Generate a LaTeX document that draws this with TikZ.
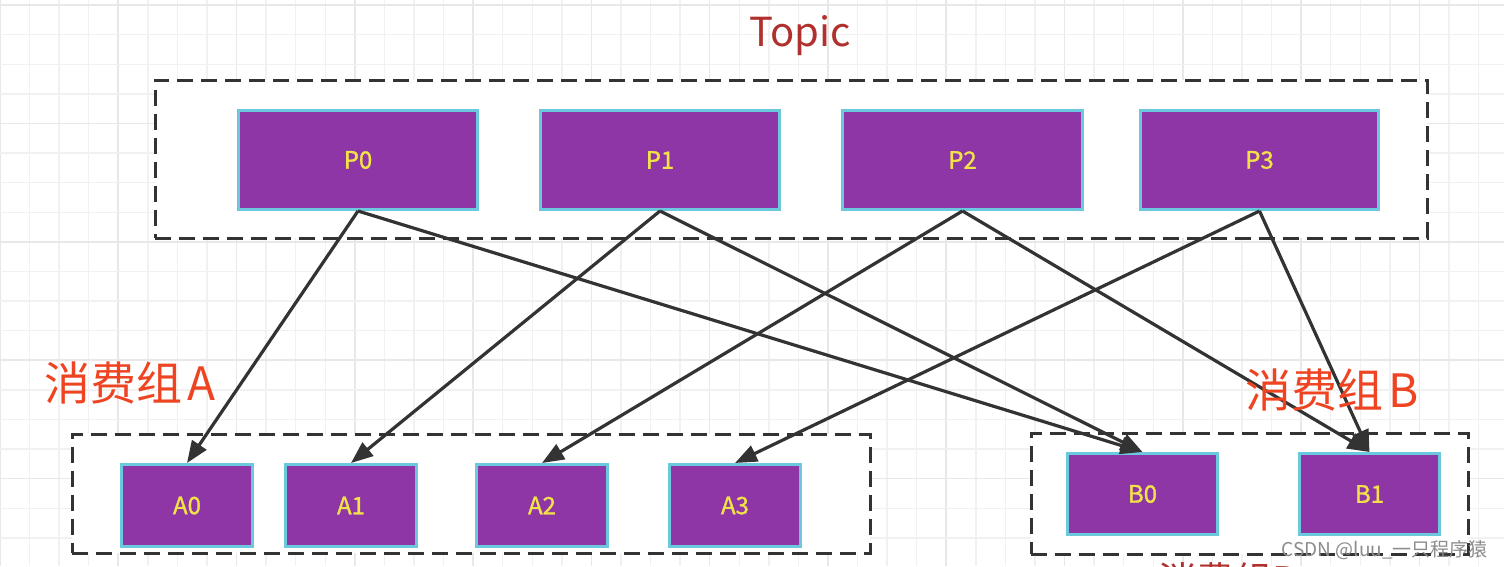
\documentclass[tikz,border=0pt]{standalone}
\usepackage{fontspec}
\setmainfont{Noto Sans CJK SC}
\newfontfamily\boxfont{Noto Sans CJK SC}[FakeBold=1.2]
\usetikzlibrary{arrows.meta}
\definecolor{gridminor}{HTML}{F1F1F1}
\definecolor{gridmajor}{HTML}{E8E8E8}
\definecolor{boxline}{HTML}{333333}
\definecolor{pfill}{HTML}{8E36A6}
\definecolor{pedge}{HTML}{6CC8DC}
\definecolor{ptext}{HTML}{F2E24A}
\definecolor{topicred}{HTML}{B0302E}
\definecolor{grpred}{HTML}{EE4422}
\definecolor{wmgray}{HTML}{8C8C8C}
\tikzset{
  groupbox/.style={draw=boxline, fill=white, line width=3pt, dash pattern=on 16pt off 8pt, rectangle, inner sep=0pt},
  partbox/.style={draw=pedge, fill=pfill, line width=3pt, rectangle, inner sep=0pt, text=ptext, font=\boxfont\fontsize{24}{28}\selectfont},
  link/.style={draw=boxline, line width=3.2pt, -{Triangle[length=22pt,width=17pt]}},
  grplabel/.style={text=grpred, font=\fontsize{46}{50}\selectfont, inner sep=0pt, anchor=base}
}
\begin{document}
\begin{tikzpicture}[x=1pt,y=-1pt]
\useasboundingbox (0,0) rectangle (1504,566);
\clip (0,0) rectangle (1504,566);
\fill[white] (0,0) rectangle (1504,566);
% grid
\foreach \k in {0,...,51}{
  \pgfmathtruncatemacro{\m}{mod(\k,4)}
  \ifnum\m=0
    \draw[gridmajor, line width=1.6pt] ({29.57*\k},0) -- ({29.57*\k},566);
  \else
    \draw[gridminor, line width=1.4pt] ({29.57*\k},0) -- ({29.57*\k},566);
  \fi
}
\foreach \k in {0,...,19}{
  \pgfmathtruncatemacro{\m}{mod(\k,4)}
  \ifnum\m=0
    \draw[gridmajor, line width=1.6pt] (0,{5+29.6*\k}) -- (1504,{5+29.6*\k});
  \else
    \draw[gridminor, line width=1.4pt] (0,{5+29.6*\k}) -- (1504,{5+29.6*\k});
  \fi
}
% group boxes
\node[groupbox, minimum width=1272pt, minimum height=158pt] (topicbox) at (791,159) {};
\node[groupbox, minimum width=798pt, minimum height=119pt] (grpA) at (471,493.5) {};
\node[groupbox, minimum width=437pt, minimum height=121pt] (grpB) at (1249.5,493.5) {};
% partitions
\node[partbox, minimum width=239pt, minimum height=99pt] (P0) at (358,160) {P0};
\node[partbox, minimum width=239pt, minimum height=99pt] (P1) at (660,160) {P1};
\node[partbox, minimum width=240pt, minimum height=99pt] (P2) at (962.5,160) {P2};
\node[partbox, minimum width=238pt, minimum height=99pt] (P3) at (1259.5,160) {P3};
% consumers A
\node[partbox, minimum width=131pt, minimum height=82pt] (A0) at (187,505.5) {A0};
\node[partbox, minimum width=131pt, minimum height=82pt] (A1) at (351,505.5) {A1};
\node[partbox, minimum width=131pt, minimum height=82pt] (A2) at (542,505.5) {A2};
\node[partbox, minimum width=131pt, minimum height=82pt] (A3) at (735,505.5) {A3};
% consumers B
\node[partbox, minimum width=150pt, minimum height=81pt] (B0) at (1142.5,494) {B0};
\node[partbox, minimum width=140pt, minimum height=81pt] (B1) at (1369.5,494) {B1};
% links
\draw[link] (P0.south) -- (A0.north);
\draw[link] (P0.south) -- (B0.north);
\draw[link] (P1.south) -- (A1.north);
\draw[link] (P1.south) -- (B0.north);
\draw[link] (P2.south) -- (A2.north);
\draw[link] (P2.south) -- (B1.north);
\draw[link] (P3.south) -- (A3.north);
\draw[link] (P3.south) -- (B1.north);
% labels
\node[text=topicred, font=\fontsize{40}{44}\selectfont, inner sep=0pt, anchor=base] (topiclbl) at (800,46) {Topic};
\node[grplabel] (lblA) at (130,400) {消费组\hspace{0.12em}A};
\node[grplabel] (lblB) at (1332,407) {消费组\hspace{0.12em}B};
\node[text=topicred, font=\fontsize{38}{42}\selectfont, inner sep=0pt, anchor=base west] (lblBcut) at (1158,594) {消费组B};
\node[text=wmgray, font=\fontsize{19}{22}\selectfont, inner sep=0pt, anchor=base east] (wm) at (1488,556) {CSDN @luu\_一只程序猿};
\end{tikzpicture}
\end{document}
